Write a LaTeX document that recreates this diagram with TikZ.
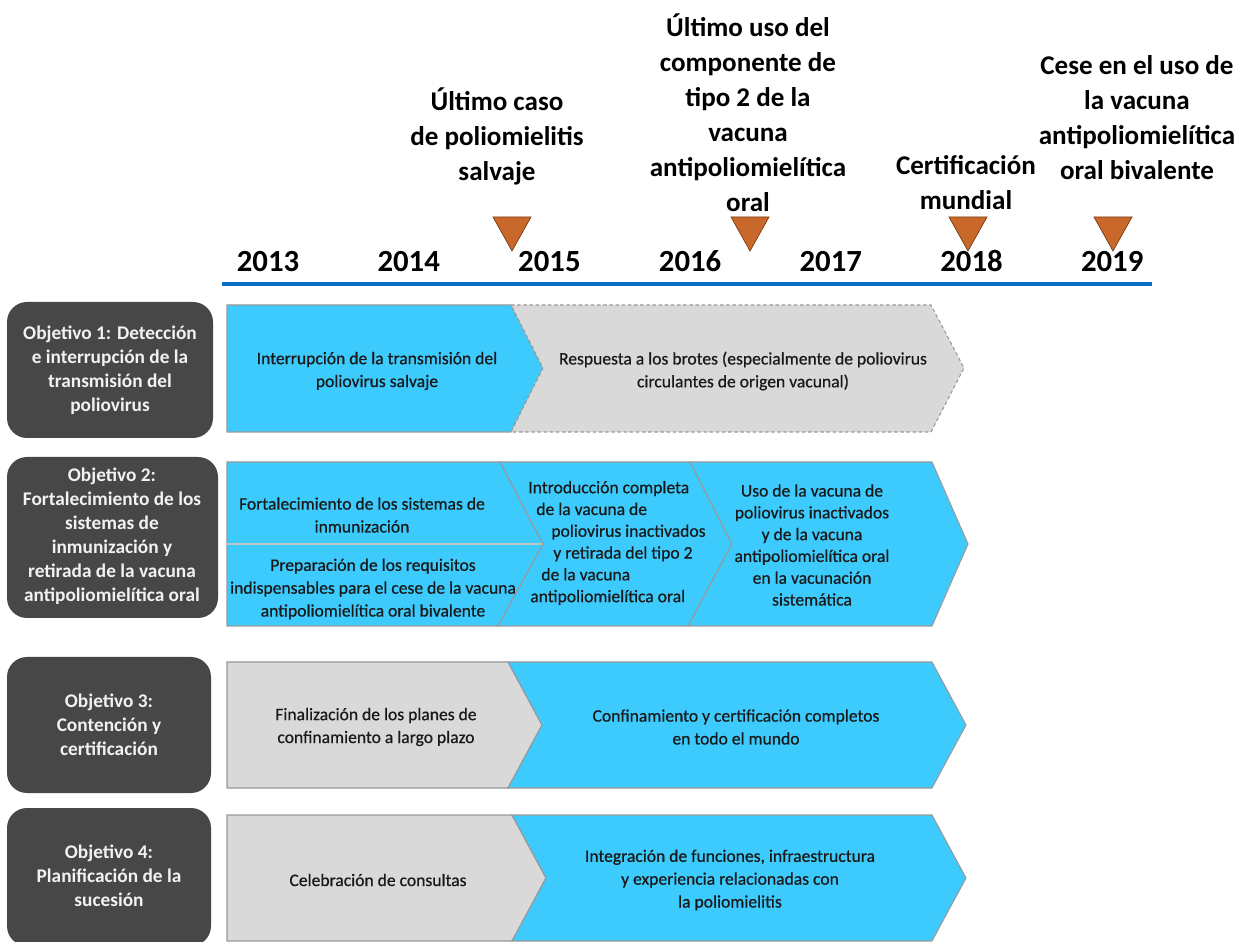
\documentclass[tikz,border=0pt]{standalone}
\usepackage{fontspec}
\setmainfont{Carlito}
\newfontfamily\stagefont[FakeBold=0.6]{Carlito}
\usepackage{tikz}
\definecolor{goalgray}{HTML}{474747}
\definecolor{goalink}{HTML}{F2F2F2}
\definecolor{skyblue}{HTML}{3DCBFE}
\definecolor{palegray}{HTML}{D9D9D9}
\definecolor{edgegray}{HTML}{999999}
\definecolor{markfill}{HTML}{C8682B}
\definecolor{markedge}{HTML}{7A3C12}
\definecolor{axisblue}{HTML}{0A6EC2}

\begin{document}
\begin{tikzpicture}[x=0.02cm,y=-0.02cm]
\tikzstyle{every node}+=[inner sep=0pt]
\tikzstyle{goal}=[fill=goalgray, rounded corners=0.4cm]
\tikzstyle{goaltext}=[text=goalink, align=center, font=\fontsize{11}{13.7}\selectfont\bfseries]
\tikzstyle{event}=[align=center, font=\fontsize{15.4}{19.9}\selectfont\bfseries]
\tikzstyle{year}=[anchor=base, font=\fontsize{17.5}{20}\selectfont\bfseries]
\tikzstyle{marker}=[fill=markfill, draw=markedge, line width=0.4pt]
\tikzstyle{bluechev}=[fill=skyblue, draw=edgegray, line width=0.6pt]
\tikzstyle{graychev}=[fill=palegray, draw=edgegray, line width=0.6pt]
\tikzstyle{stage}=[align=center, text=black!90, font=\stagefont\fontsize{10}{13}\selectfont]
\useasboundingbox (0,0) rectangle (1252,942);
% milestones
\draw (497,136) node [event] (wild) {Último caso\\de poliomielitis\\salvaje};
\draw (748,113) node [event] (type2) {Último uso del\\componente de\\tipo 2 de la\\vacuna\\antipoliomielítica\\oral};
\draw (966,183) node [event] (cert) {Certificación\\mundial};
\draw (1137,118) node [event] (bopv) {Cese en el uso de\\la vacuna\\antipoliomielítica\\oral bivalente};
\foreach \x in {512,750,968,1113}
  \draw [marker] (\x-19,217) -- (\x+19,217) -- (\x,251) -- cycle;
% years
\foreach \yr [count=\i from 0] in {2013,2014,2015,2016,2017,2018,2019}
  \draw (268+140.7*\i,272) node [year] (y\yr) {\yr};
\draw [axisblue, line width=2.2pt] (222,284) -- (1152,284);
% objectives
\fill [goal] (7,302) rectangle (213,438);
\draw (110,370) node [goaltext] (obj1) {Objetivo 1: Detección\\e interrupción de la\\transmisión del\\poliovirus};
\fill [goal] (7,457) rectangle (218,618);
\draw (112,536) node [goaltext] (obj2) {Objetivo 2:\\Fortalecimiento de los\\sistemas de\\inmunización y\\retirada de la vacuna\\antipoliomielítica oral};
\fill [goal] (7,657) rectangle (211,793);
\draw (109,725) node [goaltext] (obj3) {Objetivo 3:\\Contención y\\certificación};
\fill [goal] (7,808) rectangle (211,946);
\draw (109,876) node [goaltext] (obj4) {Objetivo 4:\\Planificación de la\\sucesión};
% row 1
\draw [bluechev] (227,305) -- (511,305) -- (543,368) -- (511,432) -- (227,432) -- cycle;
\draw [graychev, dashed, dash pattern=on 2pt off 1.5pt] (511,305) -- (931,305) -- (964,368) -- (931,432) -- (511,432) -- (543,368) -- cycle;
\draw (377,371) node [stage] (wpv) {Interrupción de la transmisión del\\poliovirus salvaje};
\draw (743,371) node [stage] (outbreak) {Respuesta a los brotes (especialmente de poliovirus\\circulantes de origen vacunal)};
% row 2
\draw [bluechev] (227,462) -- (500,462) -- (543,544) -- (498,626) -- (227,626) -- cycle;
\draw [edgegray!60, line width=0.6pt] (227,544) -- (543,544);
\draw [bluechev] (500,462) -- (690,462) -- (732,544) -- (688,626) -- (498,626) -- (543,544) -- cycle;
\draw [bluechev] (690,462) -- (932,462) -- (968,544) -- (932,626) -- (688,626) -- (732,544) -- cycle;
\draw (362,515) node [stage] (immun) {Fortalecimiento de los sistemas de\\inmunización};
\draw (373,589) node [stage] (prereq) {Preparación de los requisitos\\indispensables para el cese de la vacuna\\antipoliomielítica oral bivalente};
\draw (528,543) node [stage, anchor=west, align=left, font=\stagefont\fontsize{10}{12.4}\selectfont] (ipv) {Introducción completa\\
\hspace*{0.16cm}de la vacuna de\\
\hspace*{0.46cm}poliovirus inactivados\\
\hspace*{0.5cm}y retirada del tipo 2\\
\hspace*{0.26cm}de la vacuna\\
\hspace*{0.04cm}antipoliomielítica oral};
\draw (812,545) node [stage, font=\stagefont\fontsize{10}{12.4}\selectfont] (routine) {Uso de la vacuna de\\poliovirus inactivados\\y de la vacuna\\antipoliomielítica oral\\en la vacunación\\sistemática};
% row 3
\draw [graychev] (227,662) -- (508,662) -- (542,725) -- (508,788) -- (227,788) -- cycle;
\draw [bluechev] (508,662) -- (932,662) -- (966,725) -- (932,788) -- (508,788) -- (542,725) -- cycle;
\draw (376,727) node [stage] (plans) {Finalización de los planes de\\confinamiento a largo plazo};
\draw (736,727) node [stage] (contain) {Confinamiento y certificación completos\\en todo el mundo};
% row 4
\draw [graychev] (227,815) -- (512,815) -- (546,878) -- (512,941) -- (227,941) -- cycle;
\draw [bluechev] (512,815) -- (932,815) -- (966,878) -- (932,941) -- (512,941) -- (546,878) -- cycle;
\draw (378,880) node [stage] (consult) {Celebración de consultas};
\draw (730,880) node [stage] (legacy) {Integración de funciones, infraestructura\\y experiencia relacionadas con\\la poliomielitis};
\end{tikzpicture}
\end{document}
